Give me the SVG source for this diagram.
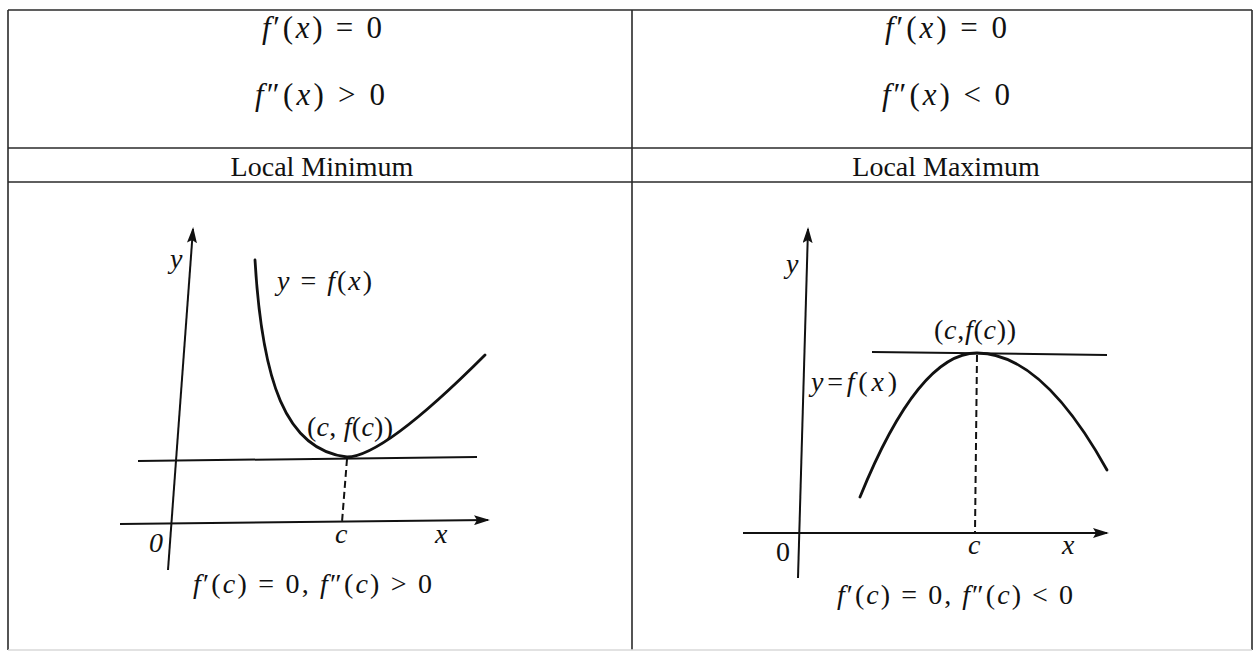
<svg xmlns="http://www.w3.org/2000/svg" width="1255" height="654" viewBox="0 0 1255 654">
<style>
.grid{stroke:#2a2a2a;stroke-width:1.6;fill:none}
.ax{stroke:#111;stroke-width:2;fill:none}
.crv{stroke:#111;stroke-width:2.8;fill:none;stroke-linecap:round}
.dash{stroke:#111;stroke-width:2;fill:none;stroke-dasharray:7 4}
.hd{font-family:"Liberation Serif",serif;font-size:31px;fill:#111}
.lab{font-family:"Liberation Serif",serif;font-size:28px;fill:#111}
.m{font-family:"Liberation Serif",serif;font-size:28px;fill:#111}
.i{font-style:italic}
</style>
<defs>
<marker id="arr" markerWidth="16" markerHeight="10" refX="14" refY="5" orient="auto" markerUnits="userSpaceOnUse">
<path d="M0,0 L16,5 L0,10 L3,5 Z" fill="#111"/>
</marker>
</defs>
<rect width="1255" height="654" fill="#fff"/>
<g id="table">
<line class="grid" x1="8" y1="10" x2="1252" y2="10"/>
<line class="grid" x1="8" y1="148" x2="1252" y2="148"/>
<line class="grid" x1="8" y1="182" x2="1252" y2="182"/>
<line class="grid" x1="8" y1="10" x2="8" y2="650"/>
<line class="grid" x1="632" y1="10" x2="632" y2="650"/>
<line class="grid" x1="1252" y1="10" x2="1252" y2="650"/>
<line x1="8" y1="650" x2="1252" y2="650" stroke="#d8d8d8" stroke-width="1.5"/>
</g>
<g id="header-left">
<text class="hd" x="262" y="38" textLength="120" lengthAdjust="spacing"><tspan class="i">f</tspan>′(<tspan class="i">x</tspan>) = 0</text>
<text class="hd" x="255" y="105" textLength="130" lengthAdjust="spacing"><tspan class="i">f</tspan>″(<tspan class="i">x</tspan>) &gt; 0</text>
<text class="lab" x="322" y="176" text-anchor="middle">Local Minimum</text>
</g>
<g id="header-right">
<text class="hd" x="885" y="38" textLength="122" lengthAdjust="spacing"><tspan class="i">f</tspan>′(<tspan class="i">x</tspan>) = 0</text>
<text class="hd" x="882" y="105" textLength="128" lengthAdjust="spacing"><tspan class="i">f</tspan>″(<tspan class="i">x</tspan>) &lt; 0</text>
<text class="lab" x="946" y="176" text-anchor="middle">Local Maximum</text>
</g>
<g id="graph-min">
<line class="ax" x1="168" y1="570" x2="193" y2="229" marker-end="url(#arr)"/>
<line class="ax" x1="120" y1="524" x2="488" y2="520" marker-end="url(#arr)"/>
<line class="ax" x1="138" y1="461" x2="477" y2="457"/>
<path class="crv" d="M255,260 C262,380 285,450 347,457 C375,457 430,410 485,355"/>
<line class="dash" x1="347" y1="459" x2="342" y2="522"/>
<text class="m i" x="170" y="268">y</text>
<text class="m" x="277" y="290" textLength="95" lengthAdjust="spacing"><tspan class="i">y</tspan> = <tspan class="i">f</tspan>(<tspan class="i">x</tspan>)</text>
<text class="m" x="307" y="436" textLength="86" lengthAdjust="spacing">(<tspan class="i">c</tspan>, <tspan class="i">f</tspan>(<tspan class="i">c</tspan>))</text>
<text class="m i" x="149" y="552">0</text>
<text class="m i" x="335" y="543">c</text>
<text class="m i" x="435" y="543">x</text>
<text class="m" x="193" y="593" textLength="239" lengthAdjust="spacing"><tspan class="i">f</tspan>′(<tspan class="i">c</tspan>) = 0, <tspan class="i">f</tspan>″(<tspan class="i">c</tspan>) &gt; 0</text>
</g>
<g id="graph-max">
<line class="ax" x1="798" y1="578" x2="808" y2="229" marker-end="url(#arr)"/>
<line class="ax" x1="743" y1="533" x2="1107" y2="533" marker-end="url(#arr)"/>
<line class="ax" x1="872" y1="352" x2="1107" y2="355"/>
<path class="crv" d="M860,497 Q918.5,353 977,353 Q1042,353 1107,470"/>
<line class="dash" x1="977" y1="355" x2="975" y2="532"/>
<text class="m i" x="786" y="273">y</text>
<text class="m" x="934" y="339" textLength="82" lengthAdjust="spacing">(<tspan class="i">c</tspan>,<tspan class="i">f</tspan>(<tspan class="i">c</tspan>))</text>
<text class="m" x="811" y="391" textLength="86" lengthAdjust="spacing"><tspan class="i">y</tspan>=<tspan class="i">f</tspan>(<tspan class="i">x</tspan>)</text>
<text class="m" x="776" y="561">0</text>
<text class="m i" x="968" y="554">c</text>
<text class="m i" x="1062" y="554">x</text>
<text class="m" x="837" y="604" textLength="236" lengthAdjust="spacing"><tspan class="i">f</tspan>′(<tspan class="i">c</tspan>) = 0, <tspan class="i">f</tspan>″(<tspan class="i">c</tspan>) &lt; 0</text>
</g>
</svg>
